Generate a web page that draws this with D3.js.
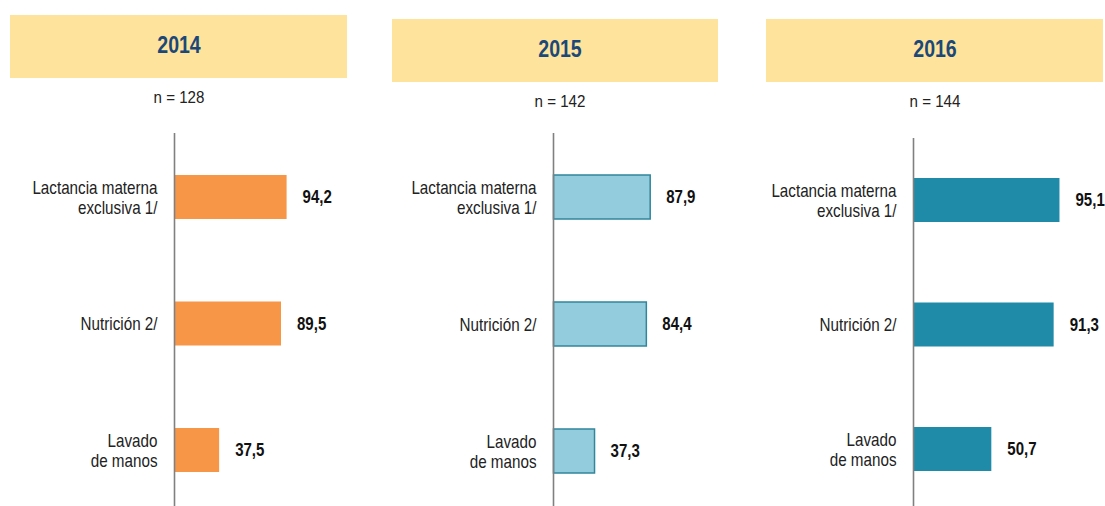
<!DOCTYPE html>
<html>
<head>
<meta charset="utf-8">
<script src="https://cdn.jsdelivr.net/npm/d3@7"></script>
<style>
  body { margin: 0; background: #fff; }
  svg { display: block; font-family: "Liberation Sans Narrow", "Arial Narrow", "Liberation Sans", Arial, sans-serif; }
</style>
</head>
<body>
<div id="chart"></div>
<script>
// data
const years = ["2014", "2015", "2016"];
const nValues = [128, 142, 144];
const categories = [["Lactancia materna", "exclusiva 1/"], ["Nutrición 2/"], ["Lavado", "de manos"]];
const values2014 = [94.2, 89.5, 37.5];
const values2015 = [87.9, 84.4, 37.3];
const values2016 = [95.1, 91.3, 50.7];
const seriesValues = [values2014, values2015, values2016];

// layout of each panel (the three source charts use slightly different scales)
const panels = [
  {box: [10, 15, 337, 63], cx: 179, titleY: 53, nY: 103, axisX: 174.5, axisTop: 133, pxPerUnit: 1.19,
   yRange: [197, 450], fill: "#f79646", stroke: "none"},
  {box: [392, 19, 326, 63], cx: 560, titleY: 57, nY: 107, axisX: 553.5, axisTop: 133, pxPerUnit: 1.10,
   yRange: [197, 451], fill: "#93cddd", stroke: "#31859c"},
  {box: [766, 19, 337, 63], cx: 935, titleY: 57, nY: 107, axisX: 913.5, axisTop: 138, pxPerUnit: 1.535,
   yRange: [200, 449], fill: "#1f8ba8", stroke: "none"}
];

const width = 1105, height = 506;
const barHeight = 44;
const fmt = v => d3.format(".1f")(v).replace(".", ",");
// the source uses a condensed face; squeeze the installed sans horizontally
const narrow = (x, y, sx) => `translate(${x},${y}) scale(${sx},1)`;

const svg = d3.select("#chart")
  .append("svg")
    .attr("width", width)
    .attr("height", height)
    .attr("viewBox", [0, 0, width, height]);

panels.forEach((p, k) => {
  const g = svg.append("g");
  const vals = seriesValues[k];
  const idx = d3.range(categories.length);

  const x = d3.scaleLinear([0, 100], [p.axisX, p.axisX + 100 * p.pxPerUnit]);
  const y = d3.scalePoint(idx, p.yRange);

  // header
  g.append("rect")
      .attr("x", p.box[0]).attr("y", p.box[1])
      .attr("width", p.box[2]).attr("height", p.box[3])
      .attr("fill", "#fee39c");

  g.append("text")
      .attr("transform", narrow(p.cx, p.titleY, 0.85))
      .attr("text-anchor", "middle")
      .attr("font-size", 23)
      .attr("font-weight", "bold")
      .attr("fill", "#1b4878")
      .text(years[k]);

  g.append("text")
      .attr("transform", narrow(p.cx, p.nY, 0.89))
      .attr("text-anchor", "middle")
      .attr("font-size", 17)
      .attr("fill", "#222")
      .text(`n = ${nValues[k]}`);

  // bars
  g.append("g")
    .selectAll("rect")
    .data(idx)
    .join("rect")
      .attr("x", x(0))
      .attr("y", i => y(i) - barHeight / 2)
      .attr("width", i => x(vals[i]) - x(0))
      .attr("height", barHeight)
      .attr("fill", p.fill)
      .attr("stroke", p.stroke)
      .attr("stroke-width", 1.5);

  // axis line
  g.append("line")
      .attr("x1", p.axisX).attr("x2", p.axisX)
      .attr("y1", p.axisTop).attr("y2", height)
      .attr("stroke", "#808080")
      .attr("stroke-width", 1.6);

  // category labels
  g.append("g")
      .attr("text-anchor", "end")
      .attr("font-size", 18)
      .attr("fill", "#222")
    .selectAll("text")
    .data(idx)
    .join("text")
      .attr("transform", i => narrow(p.axisX - 17, y(i) + 0.5 - (categories[i].length - 1) * 10, 0.845))
      .each(function(i) {
        d3.select(this).selectAll("tspan")
          .data(categories[i])
          .join("tspan")
            .attr("x", 0)
            .attr("dy", (d, j) => j === 0 ? "0.35em" : 20)
            .text(d => d);
      });

  // value labels
  g.append("g")
      .attr("font-size", 17.5)
      .attr("font-weight", "bold")
      .attr("fill", "#111")
    .selectAll("text")
    .data(idx)
    .join("text")
      .attr("transform", i => narrow(x(vals[i]) + 16, y(i), 0.86))
      .attr("dy", "0.35em")
      .text(i => fmt(vals[i]));
});
</script>
</body>
</html>
